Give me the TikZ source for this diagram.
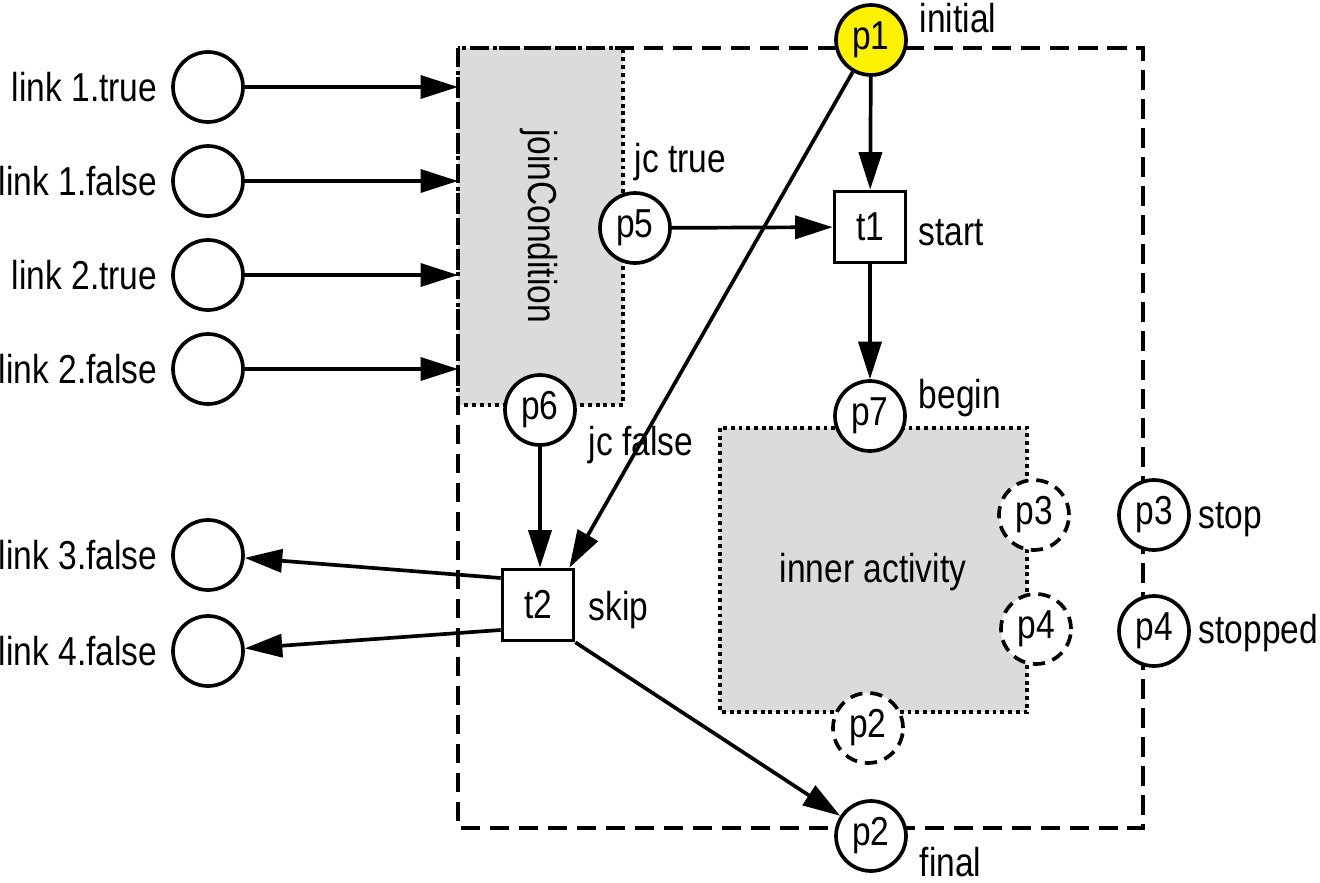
\documentclass[tikz,border=0pt]{standalone}
\usepackage{fontspec}
\setmainfont{Liberation Sans}[FakeStretch=0.83]
\usetikzlibrary{arrows.meta,positioning}
\begin{document}
\begin{tikzpicture}[x=0.02cm,y=-0.02cm,line width=2.1pt,
        font=\fontsize{23}{27}\selectfont,
        place/.style={circle,draw,fill=white,minimum size=1.4cm,inner sep=0pt},
        ghost/.style={place,dash pattern=on 7pt off 4.5pt},
        trans/.style={rectangle,draw,fill=white,minimum size=1.42cm,inner sep=0pt},
        region/.style={draw,fill=black!14,dash pattern=on 2.2pt off 2.2pt},
        scopebox/.style={draw,dash pattern=on 11pt off 5.5pt},
        lab/.style={anchor=base west,inner sep=0pt},
        arc/.style={-{Triangle[length=0.75cm,width=0.46cm]}}]
            \useasboundingbox (0,0) rectangle (1320,883);
            \path (458,48) coordinate (jcnw) (623,405) coordinate (jcse) (720,428) coordinate (ianw) (1027,712) coordinate (iase) (1143,828) coordinate (bse);
            \draw [region] (jcnw) rectangle (jcse);
            \draw [region] (ianw) rectangle (iase);
            \draw [scopebox] (jcnw) rectangle (bse);
            \node [rotate=-90] (jc) at (539,226) {joinCondition};
            \node (ia) at (873,572) {inner activity};
            \foreach \n/\y/\t in {l1/87/link 1.true, l2/181/link 1.false, l3/275/link 2.true, l4/369/link 2.false, l5/555/link 3.false, l6/651/link 4.false} {
                \node [place] (\n) at (208,\y) {};
                \node [inner sep=0pt, left=0.24cm of \n] (\n t) {\t};
            }
            \node [place, fill=yellow] (p1) at (871,40) {p1};
            \node [trans] (t1) at (870,227) {t1};
            \node [place] (p5) at (635,228) {p5};
            \node [place] (p7) at (870,416) {p7};
            \node [place] (p6) at (540,410) {p6};
            \node [trans] (t2) at (538,605) {t2};
            \node [ghost] (p3in) at (1034,515) {p3};
            \node [ghost] (p4in) at (1036,629) {p4};
            \node [ghost] (p2in) at (868,728) {p2};
            \node [place] (p3) at (1154,515) {p3};
            \node [place] (p4) at (1154,631) {p4};
            \node [place] (p2) at (871,836) {p2};
            \node [lab] (initial) at (918,32) {initial};
            \node [lab] (start) at (917,245) {start};
            \node [lab] (jctrue) at (633,172) {jc true};
            \node [lab] (begin) at (917,408) {begin};
            \node [lab] (jcfalse) at (587,455) {jc false};
            \node [lab] (skip) at (587,620) {skip};
            \node [lab] (stop) at (1197,528) {stop};
            \node [lab] (stopped) at (1197,643) {stopped};
            \node [lab] (final) at (918,876) {final};
            \foreach \n in {l1,l2,l3,l4} \draw [arc] (\n) -- (\n -| jcnw);
            \draw [arc] (p1) -- (t1);
            \draw [arc] (p5) -- (t1);
            \draw [arc] (t1) -- (p7);
            \draw [arc] (p6) -- (p6 |- t2.north);
            \draw [arc] (p1) -- ([xshift=-0.12cm]t2.north east);
            \draw [arc] ([yshift=0.54cm]t2.west) -- (l5);
            \draw [arc] ([yshift=-0.5cm]t2.west) -- (l6);
            \draw [arc] (t2.south east) -- (p2);
        \end{tikzpicture}
\end{document}
